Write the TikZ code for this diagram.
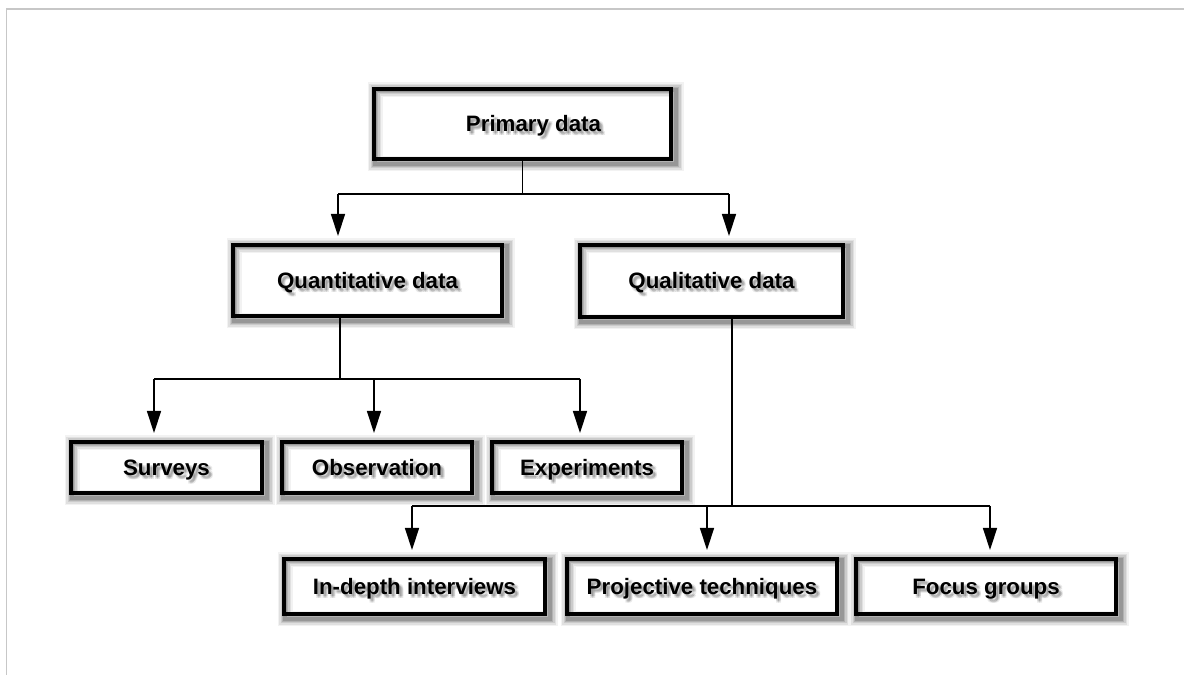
\documentclass[tikz,border=0pt]{standalone}
\usepackage{fontspec}
\setmainfont{Liberation Sans}
\usetikzlibrary{arrows.meta}
\pgfdeclarelayer{background}
\pgfsetlayers{background,main}

\tikzset{
  boxtext/.style={font=\bfseries\fontsize{22.3}{26}\selectfont, inner sep=0pt,
    text height=16pt, text depth=0pt},
  box/.style={boxtext, draw=black, line width=4pt, rectangle},
  link/.style={draw=black, line width=1.4pt},
  arr/.style={link, -{Triangle[length=22pt,width=14pt]}, shorten >=7pt},
}

% a framed box with a soft shadow under its frame and its label
\newcommand\shbox[6]{% name, x, y, width, height, label
  \node[box, minimum width=#4pt, minimum height=#5pt] (#1) at (#2,#3) {#6};
  \begin{pgfonlayer}{background}
    \foreach \w/\o in {15/0.05,12/0.07,9/0.09,6/0.12,4/0.15}
      \draw[black, opacity=\o, line width=\w pt]
        ([shift={(3,-3)}]#1.south west) rectangle ([shift={(3,-3)}]#1.north east);
    \foreach \dx/\dy in {2/-2,3/-3,4/-4,4/-2,2/-4}
      \node[boxtext, text=black, opacity=0.09] at ([shift={(\dx,\dy)}]#1.center) {#6};
  \end{pgfonlayer}
}

\begin{document}
\begin{tikzpicture}[x=1pt,y=1pt]
\useasboundingbox (0,0) rectangle (1184,675);
\begin{pgfonlayer}{background}
  \fill[white] (0,0) rectangle (1184,675);
\end{pgfonlayer}
% page frame
\draw[black!22, line width=1.2pt] (6.5,0) -- (6.5,666) -- (1184,666);

% boxes
\shbox{p}{522.5}{551}{297}{70}{\hspace*{22pt}Primary data}
\shbox{qn}{367.5}{394.5}{269}{71}{Quantitative data}
\shbox{ql}{711.5}{394}{263}{72}{Qualitative data}
\shbox{sv}{166.5}{207.5}{191}{51}{Surveys}
\shbox{ob}{377}{207.5}{190}{51}{Observation}
\shbox{ex}{587}{207.5}{190}{51}{Experiments}
\shbox{iv}{414.5}{88.5}{261}{55}{In-depth interviews}
\shbox{pj}{702}{88.5}{270}{55}{Projective techniques}
\shbox{fg}{986}{88.5}{260}{55}{Focus groups}

% junction points of the connectors
\coordinate (pa) at (338,481);
\coordinate (pb) at (729,481);
\coordinate (qa) at (154,296);
\coordinate (qm) at (340,296);
\coordinate (qb) at (374,296);
\coordinate (qc) at (580,296);
\coordinate (ra) at (412,169);
\coordinate (rm) at (732,169);
\coordinate (rb) at (707,169);
\coordinate (rc) at (990,169);

% primary data -> two kinds
\draw[link] (p.south) -- (p.south |- pa);
\draw[link] (pa) -- (pb);
\draw[arr] (pa) -- (pa |- qn.north);
\draw[arr] (pb) -- (pb |- ql.north);

% quantitative methods
\draw[link] (qn.south -| qm) -- (qm);
\draw[link] (qa) -- (qc);
\draw[arr] (qa) -- (qa |- sv.north);
\draw[arr] (qb) -- (qb |- ob.north);
\draw[arr] (qc) -- (qc |- ex.north);

% qualitative methods
\draw[link] (ql.south -| rm) -- (rm);
\draw[link] (ra) -- (rc);
\draw[arr] (ra) -- (ra |- iv.north);
\draw[arr] (rb) -- (rb |- pj.north);
\draw[arr] (rc) -- (rc |- fg.north);
\end{tikzpicture}
\end{document}
